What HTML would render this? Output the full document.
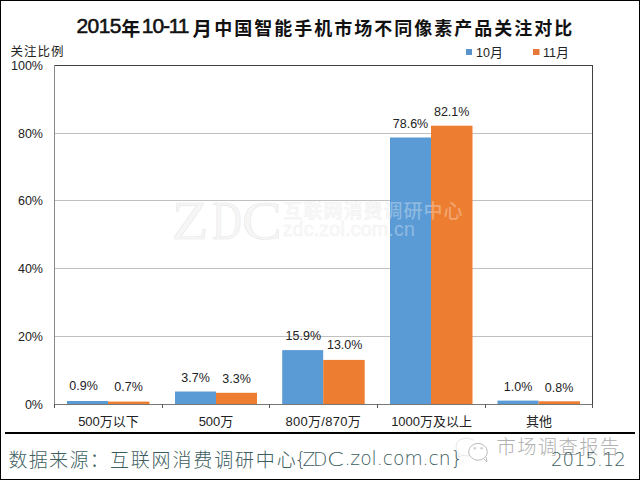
<!DOCTYPE html>
<html><head><meta charset="utf-8">
<style>
html,body{margin:0;padding:0;background:#fff;}
body{width:640px;height:480px;overflow:hidden;position:relative;}
svg{position:absolute;left:0;top:0;}
.t{position:absolute;white-space:nowrap;line-height:1;font-family:"Liberation Sans","Noto Sans CJK SC",sans-serif;color:#1a1a1a;}
.tb{font-weight:normal;font-size:21px;color:#111;-webkit-text-stroke:0.55px #111;}
.tc{font-family:"Liberation Sans","Noto Sans CJK SC",sans-serif;font-weight:700;font-size:18px;color:#111;}
.s{font-size:12.5px;color:#222;}
.sc{font-family:"Liberation Sans","Noto Sans CJK SC",sans-serif;font-size:12px;}
.lab{position:absolute;white-space:nowrap;line-height:1;font-family:"Liberation Sans",sans-serif;font-size:12.5px;color:#222;text-align:center;width:60px;}
.cat{position:absolute;white-space:nowrap;line-height:1;font-family:"Liberation Sans","Noto Sans CJK SC",sans-serif;font-size:13px;color:#222;text-align:center;width:100px;}
.yl{position:absolute;white-space:nowrap;line-height:1;font-family:"Liberation Sans",sans-serif;font-size:12.5px;color:#222;text-align:right;width:40px;left:3px;}
.ft{color:#3d5e5e;}
</style></head>
<body>
<svg width="640" height="480" viewBox="0 0 640 480">
  <rect x="0" y="0" width="640" height="480" fill="#fff"/>
  <rect x="0.5" y="0.5" width="639" height="479" fill="none" stroke="#000" stroke-width="1"/>

  <!-- legend squares -->
  <rect x="466" y="49" width="6" height="6" fill="#5993c9"/>
  <rect x="533" y="49" width="6.5" height="6" fill="#e8773a"/>

  <!-- gridlines -->
  <g stroke="#C0C0C0" stroke-width="1">
    <line x1="54" y1="133.5" x2="592" y2="133.5"/>
    <line x1="54" y1="200.5" x2="592" y2="200.5"/>
    <line x1="54" y1="268.5" x2="592" y2="268.5"/>
    <line x1="54" y1="336.5" x2="592" y2="336.5"/>
  </g>
  <line x1="54" y1="65.5" x2="593" y2="65.5" stroke="#404040" stroke-width="1"/>
  <line x1="592.5" y1="65" x2="592.5" y2="405" stroke="#404040" stroke-width="1"/>

  <!-- watermark ZDC -->
  <g font-family="Liberation Serif, serif" font-size="55" fill="#f6f6f6" stroke="#e8e8e8" stroke-width="0.6">
    <text transform="translate(171.8 238.8) scale(1.09 1)">Z</text>
    <text transform="translate(212 238.8) scale(0.75 1)">D</text>
    <text transform="translate(242.1 238.8) scale(1.09 1)">C</text>
  </g>
  <text x="283.5" y="217.5" font-family="Liberation Sans, Noto Sans CJK SC, sans-serif" font-weight="500" font-size="19" letter-spacing="1" fill="#f6f6f6" stroke="#ededed" stroke-width="0.4">互联网消费调研中心</text>
  <text x="282.5" y="236" font-family="Liberation Sans, sans-serif" font-size="19.6" letter-spacing="0.22" fill="#f6f6f6" stroke="#eeeeee" stroke-width="0.4">zdc.zol.com.cn</text>

  <!-- bars -->
  <rect x="67" y="401" width="41" height="3" fill="#5B9BD5"/>
  <rect x="108" y="401.6" width="41.5" height="2.4" fill="#ED7D31"/>
  <rect x="175" y="391.5" width="41" height="12.5" fill="#5B9BD5"/>
  <rect x="216" y="392.8" width="41" height="11.2" fill="#ED7D31"/>
  <rect x="282.2" y="350.1" width="41" height="53.9" fill="#5B9BD5"/>
  <rect x="323.2" y="359.9" width="41.5" height="44.1" fill="#ED7D31"/>
  <rect x="390" y="137.5" width="41" height="266.5" fill="#5B9BD5"/>
  <rect x="431" y="125.7" width="41.5" height="278.3" fill="#ED7D31"/>
  <rect x="497.5" y="400.6" width="41" height="3.4" fill="#5B9BD5"/>
  <rect x="538.5" y="401.3" width="41.5" height="2.7" fill="#ED7D31"/>

  <!-- watermark overlay on bars -->
  <text x="283.5" y="217.5" font-family="Liberation Sans, Noto Sans CJK SC, sans-serif" font-weight="500" font-size="19" letter-spacing="1" fill="rgba(255,255,255,0.33)">互联网消费调研中心</text>
  <text x="282.5" y="236" font-family="Liberation Sans, sans-serif" font-size="19.6" letter-spacing="0.22" fill="rgba(255,255,255,0.33)">zdc.zol.com.cn</text>

  <!-- axes -->
  <line x1="54.5" y1="65" x2="54.5" y2="405" stroke="#888" stroke-width="1"/>
  <line x1="54" y1="404.5" x2="593" y2="404.5" stroke="#777" stroke-width="1"/>
  <g stroke="#555" stroke-width="1">
    <line x1="54.5" y1="404" x2="54.5" y2="408"/>
    <line x1="162.5" y1="404" x2="162.5" y2="408"/>
    <line x1="269.5" y1="404" x2="269.5" y2="408"/>
    <line x1="377.5" y1="404" x2="377.5" y2="408"/>
    <line x1="485.5" y1="404" x2="485.5" y2="408"/>
    <line x1="592.5" y1="404" x2="592.5" y2="408"/>
  </g>

  <!-- footer separator -->
  <rect x="5" y="432" width="630" height="2" fill="#000"/>

  <!-- footer watermark logo -->
  <g fill="none" stroke-width="1">
    <path d="M474 440.5 C470 437.5 462 437.5 458.5 441 C455 444.5 455.5 450 459.5 453 L458 457.5 L463 455 C465 455.8 467 456 469 455.8" stroke="#e6e6e6"/>
    <ellipse cx="478" cy="451.8" rx="9.3" ry="8.4" stroke="#bbb" fill="#fff"/>
    <path d="M483.5 458.5 L487 462 L486 457" stroke="#bbb" fill="#fff"/>
    <circle cx="474.8" cy="448.3" r="1.2" fill="#ccc" stroke="none"/>
    <circle cx="481.6" cy="448.3" r="1.2" fill="#ccc" stroke="none"/>
  </g>
</svg>

<!-- title -->
<div class="t tb" style="left:76.4px;top:15.4px;letter-spacing:-0.55px;">2015</div>
<div class="t tc" style="left:121.3px;top:20px;font-size:19px;">年</div>
<div class="t tb" style="left:141.8px;top:15.4px;letter-spacing:-1.1px;">10-11</div>
<div class="t tc" style="left:192.6px;top:19.6px;font-size:19.5px;">月</div>
<div class="t tc" style="left:214.3px;top:20px;letter-spacing:2px;">中国智能手机市场不同像素产品关注对比</div>

<!-- y axis title -->
<div class="t sc" style="left:10.4px;top:46px;font-size:12.5px;letter-spacing:1px;color:#222;">关注比例</div>

<!-- legend -->
<div class="t s" style="left:476px;top:45.6px;">10<span class="sc" style="font-size:13px">月</span></div>
<div class="t s" style="left:543px;top:45.6px;">11<span class="sc" style="font-size:13px">月</span></div>

<!-- y labels -->
<div class="yl" style="top:60px;">100%</div>
<div class="yl" style="top:128px;">80%</div>
<div class="yl" style="top:195px;">60%</div>
<div class="yl" style="top:263px;">40%</div>
<div class="yl" style="top:331px;">20%</div>
<div class="yl" style="top:399px;">0%</div>

<!-- data labels -->
<div class="lab" style="left:53.5px;top:380px;">0.9%</div>
<div class="lab" style="left:98.5px;top:380.5px;">0.7%</div>
<div class="lab" style="left:165.5px;top:371.5px;">3.7%</div>
<div class="lab" style="left:206.5px;top:372.5px;">3.3%</div>
<div class="lab" style="left:273.3px;top:329.5px;">15.9%</div>
<div class="lab" style="left:314.7px;top:338.7px;">13.0%</div>
<div class="lab" style="left:380.5px;top:118px;">78.6%</div>
<div class="lab" style="left:421.7px;top:106px;">82.1%</div>
<div class="lab" style="left:488px;top:381px;">1.0%</div>
<div class="lab" style="left:529px;top:381.5px;">0.8%</div>

<!-- category labels -->
<div class="cat" style="left:58.5px;top:415px;">500<span class="sc" style="font-size:13px">万以下</span></div>
<div class="cat" style="left:166px;top:415px;">500<span class="sc" style="font-size:13px">万</span></div>
<div class="cat" style="left:273.3px;top:415px;letter-spacing:0.3px;">800<span class="sc" style="font-size:13px">万</span>/870<span class="sc" style="font-size:13px">万</span></div>
<div class="cat" style="left:381.6px;top:415px;">1000<span class="sc" style="font-size:13px">万及以上</span></div>
<div class="cat" style="left:489px;top:415px;"><span class="sc" style="font-size:13px">其他</span></div>

<!-- footer watermark text -->
<div class="t" style="left:496.5px;top:438px;font-family:'Liberation Sans','Noto Sans CJK SC',sans-serif;font-weight:300;font-size:19.3px;letter-spacing:1.4px;color:#b0b0b0;">市场调查报告</div>

<!-- footer -->
<div class="t ft" style="left:8.5px;top:451px;font-family:'Liberation Sans','Noto Sans CJK SC',sans-serif;font-weight:300;font-size:19px;letter-spacing:1.3px;">数据来源：</div>
<div class="t ft" style="left:109.9px;top:451px;font-family:'Liberation Sans','Noto Sans CJK SC',sans-serif;font-weight:300;font-size:19px;letter-spacing:1.85px;">互联网消费调研中心</div>
<div class="t ft" style="left:294.5px;top:449.7px;font-family:'DejaVu Sans','Noto Sans CJK SC',sans-serif;font-weight:200;font-size:18.7px;"><span style="letter-spacing:-4px">{</span><span style="letter-spacing:-2.2px">Z</span><span style="letter-spacing:-0.4px">D</span><span style="font-size:19px;display:inline-block;transform:scaleX(1.28);transform-origin:0 0;">C</span></div>
<div class="t ft" style="left:344.4px;top:449.7px;font-family:'DejaVu Sans','Noto Sans CJK SC',sans-serif;font-weight:200;font-size:18.7px;">.zol.com.cn}</div>
<div class="t ft" style="left:551.3px;top:448.5px;font-family:'DejaVu Sans','Noto Sans CJK SC',sans-serif;font-weight:200;font-size:20px;transform:scaleX(0.905);transform-origin:0 0;">2015.12</div>
</body></html>
